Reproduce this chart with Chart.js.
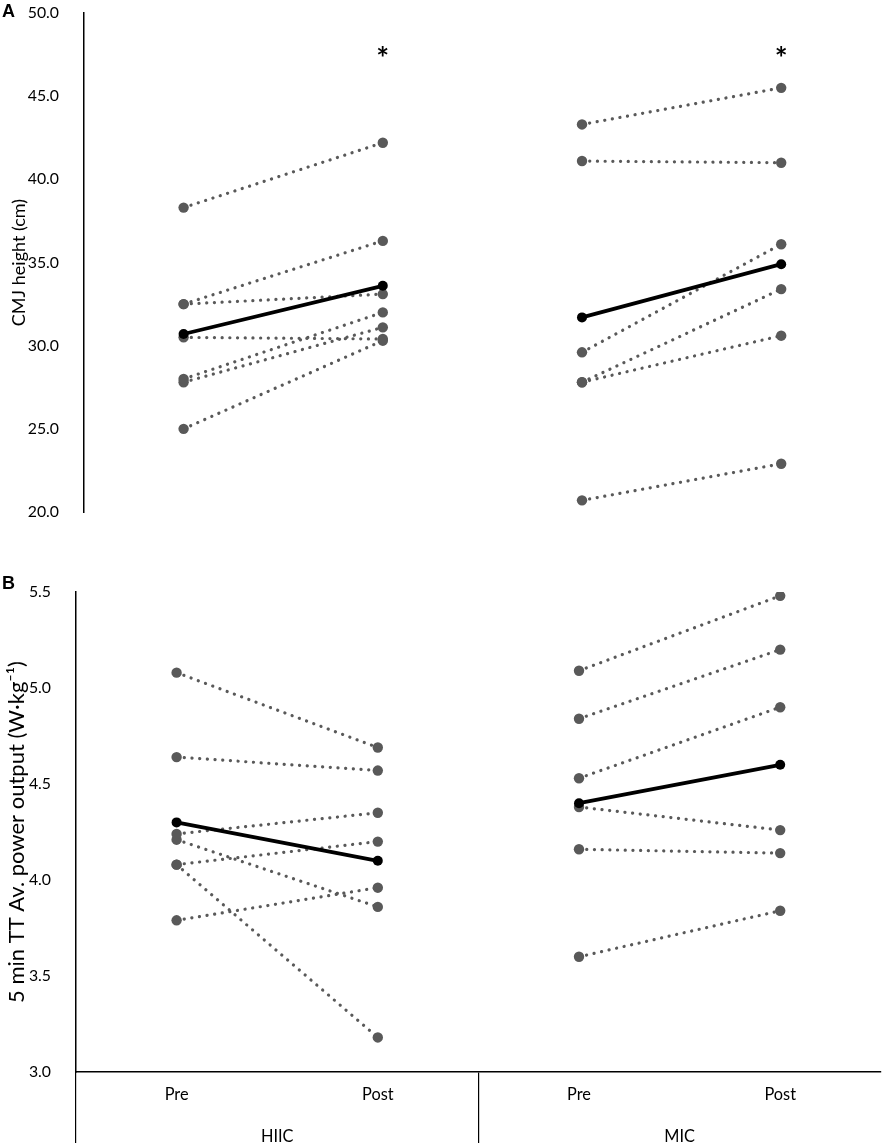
<!DOCTYPE html>
<html>
<head>
<meta charset="utf-8">
<title>CMJ height and 5 min TT power, HIIC vs MIC</title>
<script src="https://cdn.jsdelivr.net/npm/chart.js@4.4.1/dist/chart.umd.min.js"></script>
<style>
  html, body { margin: 0; padding: 0; background: #fff; }
  body { width: 886px; height: 1143px; position: relative; overflow: hidden; font-family: Lato, sans-serif; }
  .panel { position: absolute; left: 0; width: 886px; }
  .tag { position: absolute; left: 2px; font: bold 18px "Liberation Sans", Arial, sans-serif; line-height: 1; color: #000; }
</style>
</head>
<body>
<div class="panel" style="top:-30px;height:582px"><canvas id="cmjChart"></canvas></div>
<div class="panel" style="top:540px;height:603px"><canvas id="powerChart"></canvas></div>
<div class="tag" style="top:2px">A</div>
<div class="tag" style="top:574px">B</div>

<script>
// x categories (Pre/Post within each group)
const phaseLabels = ['Pre', 'Post', 'Pre', 'Post'];
const groupLabels = ['HIIC', 'MIC'];

// CMJ height (cm), one entry per participant
const cmjHiicPre  = [38.3, 32.5, 32.5, 30.5, 28.0, 27.8, 25.0];
const cmjHiicPost = [42.2, 36.3, 33.1, 30.4, 32.0, 31.1, 30.3];
const cmjMicPre   = [43.3, 41.1, 29.6, 27.8, 27.8, 20.7];
const cmjMicPost  = [45.5, 41.0, 36.1, 33.4, 30.6, 22.9];
const cmjHiicMean = [30.7, 33.6];
const cmjMicMean  = [31.7, 34.9];
const cmjTicks    = [20, 25, 30, 35, 40, 45, 50];
const cmjSig      = ['', '*', '', '*'];

// 5 min TT average power output (W/kg)
const powHiicPre  = [5.08, 4.64, 4.24, 4.21, 4.08, 4.08, 3.79];
const powHiicPost = [4.69, 4.57, 4.35, 3.86, 4.20, 3.18, 3.96];
const powMicPre   = [5.09, 4.84, 4.53, 4.38, 4.16, 3.60];
const powMicPost  = [5.48, 5.20, 4.90, 4.26, 4.14, 3.84];
const powHiicMean = [4.30, 4.10];
const powMicMean  = [4.40, 4.60];
const powTicks    = [3.0, 3.5, 4.0, 4.5, 5.0, 5.5];

const cmjTitle = 'CMJ height (cm)';
const powTitle = '5 min TT Av. power output (W\u00b7kg\u207b\u00b9)';

const GREY = '#595959';
const FONT = 'Lato';

Chart.defaults.font.family = FONT;
Chart.defaults.color = '#000';

// font size that gives a string the ink width seen in the figure
const measure = document.createElement('canvas').getContext('2d');
function fitSize(text, width, weight) {
    measure.font = (weight || 'normal') + ' 100px ' + FONT;
    const m = measure.measureText(text);
    const ink = (m.actualBoundingBoxLeft + m.actualBoundingBoxRight) || m.width;
    return 100 * width / ink;
}
const tickSize  = fitSize('50.0', 30);
const catSize   = fitSize('Post', 30);
const titleSizeA = fitSize(cmjTitle, 126);
const titleSizeB = fitSize(powTitle, 340);
const starSize  = fitSize('*', 10, 'bold');

// put a pre/post pair into its own group's slots, nulls elsewhere
function slot(pre, post, first) {
    const d = [null, null, null, null];
    d[first] = pre;
    d[first + 1] = post;
    return d;
}

function buildSets(hPre, hPost, mPre, mPost, hMean, mMean) {
    const sets = [];
    const dotted = (data) => ({
        data: data,
        borderColor: GREY,
        backgroundColor: GREY,
        borderWidth: 3.2,
        borderDash: [0.1, 7.6],
        borderCapStyle: 'round',
        pointRadius: 5.2,
        pointBorderWidth: 0,
        pointBackgroundColor: GREY,
        spanGaps: false,
        order: 2
    });
    hPre.forEach((v, i) => sets.push(dotted(slot(v, hPost[i], 0))));
    mPre.forEach((v, i) => sets.push(dotted(slot(v, mPost[i], 2))));
    const mean = (data) => ({
        data: data,
        borderColor: '#000',
        backgroundColor: '#000',
        borderWidth: 3.8,
        pointRadius: 5,
        pointBorderWidth: 0,
        pointBackgroundColor: '#000',
        spanGaps: false,
        order: 1
    });
    sets.push(mean(slot(hMean[0], hMean[1], 0)));
    sets.push(mean(slot(mMean[0], mMean[1], 2)));
    return sets;
}

// significance asterisks above given categories
const sigMarks = {
    id: 'sigMarks',
    afterDatasetsDraw(chart, args, opts) {
        if (!opts.marks) return;
        const { ctx, scales: { x, y } } = chart;
        ctx.save();
        ctx.font = 'bold ' + starSize + 'px ' + FONT;
        ctx.fillStyle = '#000';
        ctx.textAlign = 'center';
        ctx.textBaseline = 'alphabetic';
        opts.marks.forEach((m, i) => {
            if (!m) return;
            const mt = ctx.measureText(m);
            const px = x.getPixelForValue(i);
            const py = y.getPixelForValue(opts.level);
            ctx.fillText(m, px, py + (mt.actualBoundingBoxAscent - mt.actualBoundingBoxDescent) / 2);
        });
        ctx.restore();
    }
};

function yAxis(ticks, title, titleSize, titleCentre, width) {
    return {
        min: ticks[0],
        max: ticks[ticks.length - 1],
        afterBuildTicks: (s) => { s.ticks = ticks.map(v => ({ value: v })); },
        grid: { display: false },
        border: { display: true, color: '#000', width: 1.5 },
        ticks: {
            padding: 17,
            color: '#000',
            font: { size: tickSize },
            callback: (v) => Number(v).toFixed(1)
        },
        title: {
            display: true,
            text: title,
            color: '#000',
            font: { size: titleSize },
            padding: { top: Math.max(0, titleCentre - titleSize * 0.6), bottom: 0 }
        },
        afterFit: (s) => { s.width = width; }
    };
}

// Panel A
new Chart(document.getElementById('cmjChart').getContext('2d'), {
    type: 'line',
    data: {
        labels: phaseLabels,
        datasets: buildSets(cmjHiicPre, cmjHiicPost, cmjMicPre, cmjMicPost, cmjHiicMean, cmjMicMean)
    },
    options: {
        responsive: true,
        maintainAspectRatio: false,
        animation: false,
        layout: { padding: { top: 43, bottom: 40, left: 0, right: 3 } },
        plugins: {
            legend: { display: false },
            tooltip: { enabled: false },
            sigMarks: { marks: cmjSig, level: 47.7 }
        },
        scales: {
            x: { type: 'category', offset: true, display: false },
            y: yAxis(cmjTicks, cmjTitle, titleSizeA, 19, 84)
        }
    },
    plugins: [sigMarks]
});

// Panel B
new Chart(document.getElementById('powerChart').getContext('2d'), {
    type: 'line',
    data: {
        labels: phaseLabels,
        datasets: buildSets(powHiicPre, powHiicPost, powMicPre, powMicPost, powHiicMean, powMicMean)
    },
    options: {
        responsive: true,
        maintainAspectRatio: false,
        animation: false,
        layout: { padding: { top: 52, bottom: 0, left: 0, right: 3 } },
        plugins: {
            legend: { display: false },
            tooltip: { enabled: false }
        },
        scales: {
            x: {
                type: 'category',
                offset: true,
                position: 'bottom',
                grid: {
                    offset: true,
                    drawOnChartArea: false,
                    drawTicks: true,
                    tickLength: 71,
                    lineWidth: 1.2,
                    color: (c) => (c.index % 2 === 0 ? '#000' : 'rgba(0,0,0,0)')
                },
                border: { display: true, color: '#000', width: 1.5 },
                ticks: { padding: 23 - 71 - catSize * 0.6, color: '#000', font: { size: catSize } },
                afterFit: (s) => { s.height = 32; }
            },
            group: {
                axis: 'x',
                type: 'category',
                labels: groupLabels,
                offset: true,
                position: 'bottom',
                grid: { display: false },
                border: { display: false },
                ticks: { padding: 25 - catSize * 0.6, color: '#000', font: { size: catSize } },
                afterFit: (s) => { s.height = 39; }
            },
            y: yAxis(powTicks, powTitle, titleSizeB, 17, 76)
        }
    }
});
</script>
</body>
</html>
